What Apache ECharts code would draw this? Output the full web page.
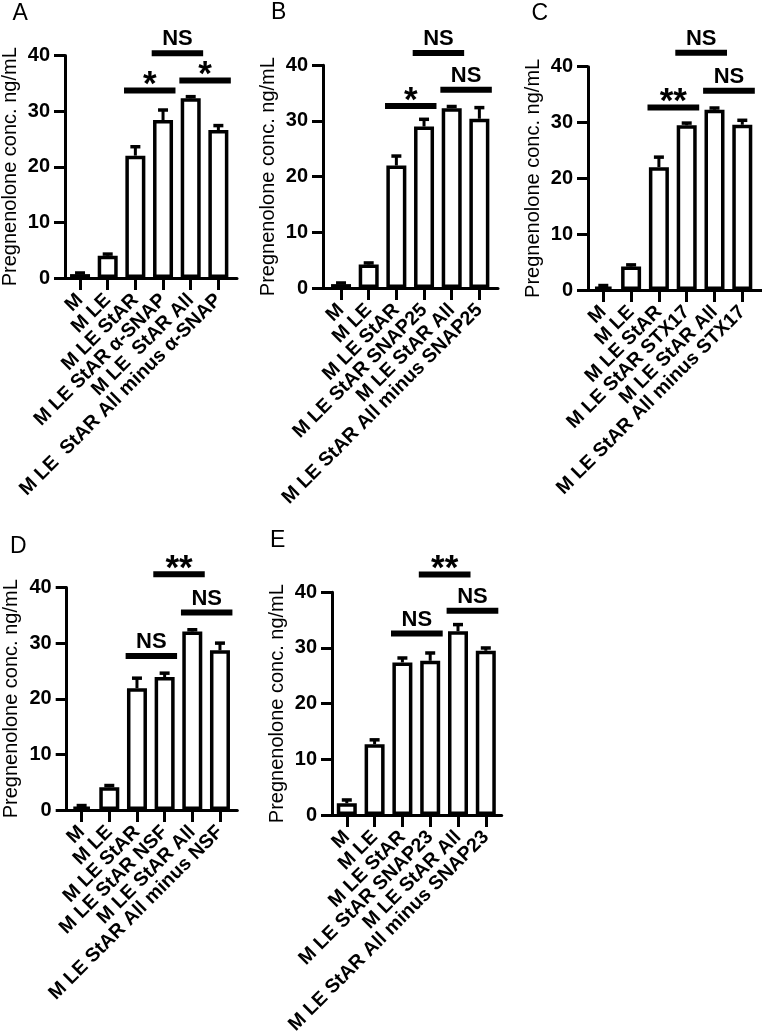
<!DOCTYPE html>
<html><head><meta charset="utf-8">
<script src="https://cdn.jsdelivr.net/npm/echarts@6/dist/echarts.min.js"></script>
<style>html,body{margin:0;padding:0;background:#fff}#chart{width:762px;height:1034px}</style>
</head><body><div id="chart"></div>
<script>
// ---------- DATA ----------
const yAxisTitle = 'Pregnenolone conc. ng/mL';
const yMin = 0, yMax = 40, yStep = 10;

const categoriesA = ['M', 'M LE', 'M LE StAR', 'M LE StAR α-SNAP', 'M LE  StAR All', 'M LE  StAR All minus α-SNAP'];
const valuesA = [0.7, 4.0, 22.0, 28.4, 32.3, 26.6];
const errorsA = [0.2, 0.3, 1.6, 1.8, 0.3, 0.8];
const sigA = [[2, 3, 33.7, '*'], [4, 5, 35.5, '*'], [3, 4, 40.4, 'NS']];

const categoriesB = ['M', 'M LE', 'M LE StAR', 'M LE StAR SNAP25', 'M LE StAR All', 'M LE StAR All minus SNAP25'];
const valuesB = [0.7, 4.2, 22.0, 29.0, 32.3, 30.4];
const errorsB = [0.2, 0.3, 1.7, 1.3, 0.3, 2.0];
const sigB = [[2, 3, 32.7, '*'], [3, 4, 42.2, 'NS'], [4, 5, 35.6, 'NS']];

const categoriesC = ['M', 'M LE', 'M LE StAR', 'M LE StAR STX17', 'M LE StAR All', 'M LE StAR All minus STX17'];
const valuesC = [0.6, 4.2, 22.0, 29.5, 32.3, 29.6];
const errorsC = [0.2, 0.3, 1.8, 0.4, 0.3, 0.8];
const sigC = [[2, 3, 32.7, '**'], [3, 4, 42.5, 'NS'], [4, 5, 35.7, 'NS']];

const categoriesD = ['M', 'M LE', 'M LE StAR', 'M LE StAR NSF', 'M LE StAR All', 'M LE StAR All minus NSF'];
const valuesD = [0.6, 4.1, 21.9, 23.9, 32.1, 28.7];
const errorsD = [0.2, 0.3, 1.8, 0.7, 0.3, 1.3];
const sigD = [[2, 3, 27.7, 'NS'], [3, 4, 42.4, '**'], [4, 5, 35.5, 'NS']];

const categoriesE = ['M', 'M LE', 'M LE StAR', 'M LE StAR SNAP23', 'M LE StAR All', 'M LE StAR All minus SNAP23'];
const valuesE = [2.1, 12.7, 27.4, 27.7, 33.0, 29.5];
const errorsE = [0.6, 0.8, 0.8, 1.4, 1.2, 0.5];
const sigE = [[2, 3, 32.6, 'NS'], [3, 4, 43.2, '**'], [4, 5, 36.7, 'NS']];

// ---------- LAYOUT ----------
const FONT = "'Liberation Sans', Arial, Helvetica, sans-serif";
const panels = [
  { letter: 'A', cats: categoriesA, vals: valuesA, errs: errorsA, sig: sigA,
    L: { axisLeft: 65, axisRight: 237, innerLeft: 66.2, innerWidth: 166, top: 55.5, bottom: 278, lx: 12.5, ly: 2 } },
  { letter: 'B', cats: categoriesB, vals: valuesB, errs: errorsB, sig: sigB,
    L: { axisLeft: 323, axisRight: 498, innerLeft: 327.2, innerWidth: 166, top: 65.3, bottom: 288, lx: 271, ly: 1.5 } },
  { letter: 'C', cats: categoriesC, vals: valuesC, errs: errorsC, sig: sigC,
    L: { axisLeft: 588, axisRight: 761.7, innerLeft: 589.4, innerWidth: 166.8, top: 66.7, bottom: 290, lx: 531.5, ly: 2 } },
  { letter: 'D', cats: categoriesD, vals: valuesD, errs: errorsD, sig: sigD,
    L: { axisLeft: 66.7, axisRight: 237.3, innerLeft: 67.8, innerWidth: 166, top: 587.5, bottom: 810, lx: 10, ly: 535.5 } },
  { letter: 'E', cats: categoriesE, vals: valuesE, errs: errorsE, sig: sigE,
    L: { axisLeft: 332, axisRight: 501.7, innerLeft: 332.9, innerWidth: 166.8, top: 592.3, bottom: 815, lx: 270, ly: 529 } }
];

const grids = [], xAxes = [], yAxes = [], series = [], titles = [];

panels.forEach((p, k) => {
  const L = p.L;
  const h = L.bottom - L.top;
  const gOuter = grids.length;
  grids.push({ left: L.axisLeft, top: L.top, width: L.axisRight - L.axisLeft, height: h, containLabel: false, outerBoundsMode: 'none' });
  const gInner = grids.length;
  grids.push({ left: L.innerLeft, top: L.top, width: L.innerWidth, height: h, containLabel: false, outerBoundsMode: 'none' });

  // outer axes: y axis with labels and the long x axis line
  xAxes.push({ gridIndex: gOuter, type: 'category', data: p.cats,
    axisLine: { show: true, lineStyle: { color: '#000', width: 3 } },
    axisTick: { show: false }, axisLabel: { show: false }, splitLine: { show: false } });
  yAxes.push({ gridIndex: gOuter, type: 'value', min: yMin, max: yMax, interval: yStep,
    name: yAxisTitle, nameLocation: 'middle', nameGap: 45,
    nameTextStyle: { fontFamily: FONT, fontSize: 20, color: '#000', fontWeight: 'normal' },
    axisLine: { show: true, lineStyle: { color: '#000', width: 3 } },
    axisTick: { show: true, length: 11, lineStyle: { color: '#000', width: 3 } },
    axisLabel: { fontFamily: FONT, fontSize: 20, fontWeight: 'bold', color: '#000', margin: 15 },
    splitLine: { show: false } });

  // inner axes: categories with ticks + rotated labels
  const xi = xAxes.length;
  xAxes.push({ gridIndex: gInner, type: 'category', data: p.cats,
    axisLine: { show: false },
    axisTick: { show: true, alignWithLabel: true, length: 12, lineStyle: { color: '#000', width: 3 } },
    axisLabel: { interval: 0, rotate: 45, margin: 19, fontFamily: FONT, fontSize: 19.5, fontWeight: 'bold', color: '#000' },
    splitLine: { show: false } });
  const yi = yAxes.length;
  yAxes.push({ gridIndex: gInner, type: 'value', min: yMin, max: yMax, interval: yStep, show: false });

  series.push({ type: 'bar', xAxisIndex: xi, yAxisIndex: yi, data: p.vals, barWidth: 20,
    itemStyle: { color: '#fff', borderColor: '#000', borderWidth: 3.5 }, animation: false, silent: true });

  series.push({ type: 'custom', xAxisIndex: xi, yAxisIndex: yi, clip: false, animation: false, silent: true,
    data: p.vals.map((v, i) => [i, v, p.errs[i]]),
    renderItem: (params, api) => {
      const x = api.value(0), v = api.value(1), e = api.value(2);
      const p0 = api.coord([x, v]);
      const p1 = api.coord([x, v + e]);
      const cap = 5;
      return { type: 'group', children: [
        { type: 'line', shape: { x1: p0[0], y1: p0[1], x2: p1[0], y2: p1[1] }, style: { stroke: '#000', lineWidth: 3 } },
        { type: 'line', shape: { x1: p1[0] - cap, y1: p1[1], x2: p1[0] + cap, y2: p1[1] }, style: { stroke: '#000', lineWidth: 3.5 } }
      ] };
    } });

  series.push({ type: 'custom', xAxisIndex: xi, yAxisIndex: yi, clip: false, animation: false, silent: true,
    data: p.sig.map(s => [s[0], s[1], s[2]]),
    renderItem: (params, api) => {
      const a = api.value(0), b = api.value(1), y = api.value(2);
      const label = p.sig[params.dataIndex][3];
      const band = api.size([1, 0])[0];
      const c1 = api.coord([a, y]), c2 = api.coord([b, y]);
      const x1 = c1[0] - 0.41 * band, x2 = c2[0] + 0.45 * band;
      const lw = 6;
      const top = c1[1] - lw / 2;
      const star = label.indexOf('*') >= 0;
      return { type: 'group', children: [
        { type: 'line', shape: { x1: x1, y1: c1[1], x2: x2, y2: c1[1] }, style: { stroke: '#000', lineWidth: lw } },
        { type: 'text', style: { text: label, x: (x1 + x2) / 2, y: star ? top - 2 : top - 11,
            font: 'bold ' + (star ? 35 : 22) + 'px ' + FONT, fill: '#000', align: 'center', verticalAlign: 'middle' } }
      ] };
    } });

  titles.push({ text: p.letter, left: L.lx, top: L.ly, padding: 0,
    textStyle: { fontFamily: FONT, fontSize: 23, fontWeight: 'normal', color: '#000' } });
});

const chart = echarts.init(document.getElementById('chart'), null, { renderer: 'canvas' });
chart.setOption({
  backgroundColor: '#fff',
  animation: false,
  title: titles,
  grid: grids,
  xAxis: xAxes,
  yAxis: yAxes,
  series: series
});
</script></body></html>
